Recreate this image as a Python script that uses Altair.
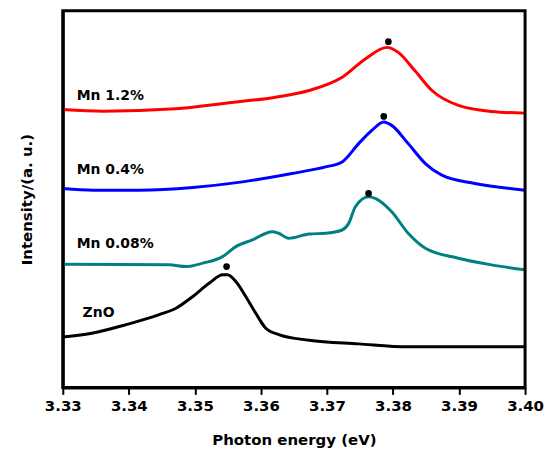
import altair as alt
import pandas as pd

# ---- data ----
zno_e = [3.3300, 3.3346, 3.3396, 3.3446, 3.3472, 3.3497, 3.3522, 3.3542, 3.3549, 3.3562,
         3.3577, 3.3592, 3.3607, 3.3627, 3.3673, 3.3748, 3.3823, 3.4000]
zno_i = [50.7, 54.7, 63, 73, 79.7, 91.3, 104.7, 113, 113, 106.3,
         91.3, 74.7, 59.7, 53, 47.3, 43.7, 40.7, 40.7]

mn008_e = [3.3300, 3.3461, 3.3487, 3.3512, 3.3542, 3.3562, 3.3587, 3.3617, 3.3627, 3.3642,
           3.3673, 3.3698, 3.3723, 3.3733, 3.3743, 3.3763, 3.3773, 3.3798, 3.3823, 3.3849,
           3.3899, 3.3949, 3.4000]
mn008_i = [123.7, 123, 121.3, 124.7, 131.3, 141.3, 148, 156.3, 154.7, 149.7,
           154, 154.7, 158, 164.7, 181.3, 191.3, 189.7, 176.3, 154.7, 139.7,
           129.7, 123, 118]

mn04_e = [3.3300, 3.3346, 3.3416, 3.3497, 3.3572, 3.3647, 3.3698, 3.3723, 3.3748, 3.3768,
          3.3786, 3.3798, 3.3823, 3.3849, 3.3874, 3.3924, 3.4000]
mn04_i = [199.7, 198, 198, 200.7, 206.3, 214.7, 221.3, 226.3, 244.7, 258,
          266.3, 263, 244.7, 224.7, 213, 204.7, 198]

mn12_e = [3.3300, 3.3361, 3.3471, 3.3547, 3.3622, 3.3673, 3.3723, 3.3758, 3.3791, 3.3808,
          3.3833, 3.3859, 3.3899, 3.3949, 3.4000]
mn12_i = [279, 277.3, 279.7, 285.3, 291.3, 298, 311.3, 329.7, 341.3, 336.3,
          318, 298, 283, 277, 275.3]

series_names = ["ZnO", "Mn 0.08%", "Mn 0.4%", "Mn 1.2%"]
series_colors = ["#000000", "#008080", "#0000ff", "#ff0000"]

peak_e = [3.3548, 3.3763, 3.3786, 3.3793]
peak_i = [121.3, 194.7, 272, 347]

label_e = [3.3330, 3.3321, 3.3321, 3.3321]
label_i = [75, 144, 218, 292.5]

x_all = [3.33, 3.335, 3.34, 3.345, 3.35, 3.355, 3.36, 3.365, 3.37, 3.375,
         3.38, 3.385, 3.39, 3.395, 3.40]

# ---- tables ----
rows = []
for name, es, ys in zip(series_names, [zno_e, mn008_e, mn04_e, mn12_e],
                        [zno_i, mn008_i, mn04_i, mn12_i]):
    for e, y in zip(es, ys):
        rows.append({"series": name, "energy": e, "intensity": y})
lines_df = pd.DataFrame(rows)
peaks_df = pd.DataFrame({"energy": peak_e, "intensity": peak_i})
labels_df = pd.DataFrame({"series": series_names, "energy": label_e, "intensity": label_i})

FONT = "DejaVu Sans"
W, H = 464, 378

x_enc = alt.X(
    "energy:Q",
    scale=alt.Scale(domain=[3.33, 3.40], nice=False),
    axis=alt.Axis(
        values=x_all,
        format=".2f",
        labelExpr="round(datum.value*200) % 2 == 1 ? '' : format(datum.value, '.2f')",
        tickSize={"condition": {"test": "round(datum.value*200) % 2 == 1", "value": 4}, "value": 7},
        tickWidth=2,
        tickColor="black",
        domainWidth=3,
        domainColor="black",
        grid=False,
        labelFlush=False,
        labelFont=FONT,
        labelFontWeight="bold",
        labelFontSize=15,
        labelPadding=4,
        labelColor="black",
        title="Photon energy (eV)",
        titleFont=FONT,
        titleFontWeight="bold",
        titleFontSize=15,
        titlePadding=19,
        titleColor="black",
    ),
)
y_enc = alt.Y(
    "intensity:Q",
    scale=alt.Scale(domain=[0, H], nice=False),
    axis=alt.Axis(
        labels=False,
        ticks=False,
        grid=False,
        domainWidth=3,
        domainColor="black",
        title="Intensity/(a. u.)",
        titleFont=FONT,
        titleFontWeight="bold",
        titleFontSize=15,
        titlePadding=28,
        titleColor="black",
    ),
)

frame = alt.Chart(pd.DataFrame({"k": [0]})).mark_rect(
    fill=None, stroke="black", strokeWidth=3
).encode(x=alt.value(0), x2=alt.value(W), y=alt.value(0), y2=alt.value(H))

lines = alt.Chart(lines_df).mark_line(strokeWidth=3, interpolate="monotone").encode(
    x=x_enc,
    y=y_enc,
    color=alt.Color("series:N", scale=alt.Scale(domain=series_names, range=series_colors), legend=None),
    detail="series:N",
)

dots = alt.Chart(peaks_df).mark_circle(size=45, color="black", opacity=1).encode(
    x="energy:Q", y="intensity:Q"
)

labels = alt.Chart(labels_df).mark_text(
    align="left", baseline="middle", font=FONT, fontWeight="bold", fontSize=14, color="black"
).encode(x="energy:Q", y="intensity:Q", text="series:N")

chart = (
    alt.layer(lines, dots, labels, frame)
    .properties(
        width=W,
        height=H,
        autosize=alt.AutoSizeParams(type="none"),
        padding={"left": 55, "top": 2, "right": 20, "bottom": 60},
    )
    .configure_view(stroke=None)
    .configure(background="white")
)

chart.save("out.html", embed_options={"renderer": "svg", "actions": False})
